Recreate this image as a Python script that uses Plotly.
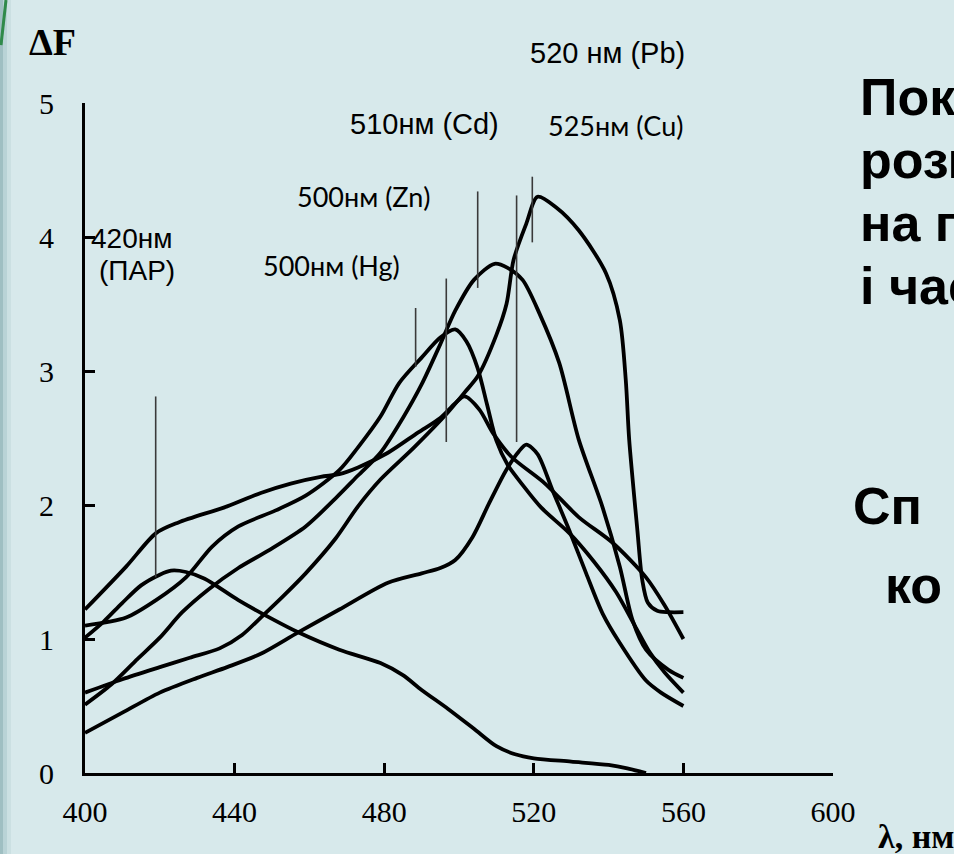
import plotly.graph_objects as go

# ---------------- data ----------------
par_x = [400, 405, 410, 415, 420, 423, 427, 432, 441, 450, 457, 468, 479, 485, 490, 497, 504, 510, 515, 520, 530, 540, 545, 550]
par_y = [1.01, 1.13, 1.27, 1.40, 1.48, 1.51, 1.50, 1.45, 1.29, 1.15, 1.05, 0.92, 0.82, 0.73, 0.62, 0.48, 0.33, 0.20, 0.14, 0.11, 0.085, 0.06, 0.035, 0.0]

hg_x = [400, 411, 419, 425, 438, 447, 455, 463, 468, 473, 481, 489, 495, 499, 501.5, 505.5, 509, 514, 523, 532, 541, 550, 555, 560]
hg_y = [1.22, 1.54, 1.79, 1.87, 1.99, 2.09, 2.16, 2.21, 2.23, 2.28, 2.39, 2.54, 2.65, 2.76, 2.81, 2.71, 2.54, 2.36, 2.16, 1.91, 1.72, 1.46, 1.25, 1.0]

zn_x = [400, 411, 419, 427, 434, 441, 451, 459, 468, 473, 479, 484, 490, 495, 499, 502, 505, 507.5, 510, 513, 517, 522, 529.5, 536, 542, 547, 551, 555, 560]
zn_y = [1.10, 1.16, 1.29, 1.46, 1.69, 1.84, 1.96, 2.07, 2.26, 2.43, 2.66, 2.91, 3.10, 3.25, 3.31, 3.22, 3.02, 2.75, 2.48, 2.30, 2.15, 1.98, 1.79, 1.58, 1.35, 1.10, 0.90, 0.75, 0.60]

cd_x = [400, 407, 414, 420, 426, 433, 441, 449, 459, 467, 473, 479, 485, 490, 495, 499, 504, 509.5, 513, 517, 521.5, 526.8, 532, 538.3, 543, 546.4, 550, 556, 560]
cd_y = [0.51, 0.66, 0.85, 1.01, 1.20, 1.37, 1.53, 1.66, 1.84, 2.05, 2.22, 2.39, 2.65, 2.90, 3.20, 3.45, 3.68, 3.80, 3.77, 3.68, 3.43, 3.06, 2.49, 1.99, 1.54, 1.14, 0.92, 0.77, 0.71]

pb_x = [400, 410, 420, 428, 436, 442, 447, 453, 459, 467, 473, 479, 488, 497, 501.5, 505, 510, 512.7, 514.6, 518, 521, 526, 532, 539.3, 543, 544.6, 545.5, 547.7, 549, 550.5, 553, 556, 560]
pb_y = [0.60, 0.70, 0.79, 0.86, 0.93, 1.03, 1.16, 1.32, 1.49, 1.75, 1.99, 2.19, 2.43, 2.69, 2.84, 2.96, 3.27, 3.50, 3.83, 4.10, 4.30, 4.22, 4.05, 3.73, 3.38, 2.93, 2.49, 1.81, 1.44, 1.27, 1.21, 1.20, 1.20]

cu_x = [400, 410, 420, 430, 438, 447, 457, 468, 481, 490, 495, 499, 503.6, 508, 512.6, 516, 518, 521, 525, 529.5, 534, 538.4, 543, 550, 554, 560]
cu_y = [0.30, 0.45, 0.60, 0.71, 0.79, 0.89, 1.05, 1.22, 1.42, 1.49, 1.53, 1.59, 1.76, 2.01, 2.26, 2.40, 2.45, 2.38, 2.11, 1.81, 1.49, 1.19, 0.97, 0.69, 0.60, 0.50]

# thin vertical marker lines (wavelength, low, high)
mark_x = [418.9, 488.4, 496.6, 505.0, 515.4, 519.6]
mark_lo = [1.46, 3.03, 2.47, 3.62, 2.47, 3.96]
mark_hi = [2.81, 3.47, 3.69, 4.34, 4.31, 4.45]

x_ticks = [400, 440, 480, 520, 560, 600]
y_ticks = [0, 1, 2, 3, 4, 5]

# ---------------- layout geometry ----------------
W, H = 954, 854
L, R, T, B = 85, 121, 103, 81
PW, PH = W - L - R, H - T - B
BG = "#d7e9eb"


def px(xp):
    return (xp - L) / PW


def py(yp):
    return (H - B - yp) / PH


fig = go.Figure()

for xs, ys in [(par_x, par_y), (hg_x, hg_y), (zn_x, zn_y), (cd_x, cd_y), (pb_x, pb_y), (cu_x, cu_y)]:
    fig.add_trace(go.Scatter(x=xs, y=ys, mode="lines",
                             line=dict(color="black", width=3.8, shape="spline", smoothing=0.8),
                             cliponaxis=False, showlegend=False, hoverinfo="skip"))

for mx, lo, hi in zip(mark_x, mark_lo, mark_hi):
    fig.add_trace(go.Scatter(x=[mx, mx], y=[lo, hi], mode="lines",
                             line=dict(color="#3a3a3a", width=1.6),
                             cliponaxis=False, showlegend=False, hoverinfo="skip"))

ann = []


def add_text(text, xp, yp, size, family, bold=False, xanchor="center", yanchor="middle"):
    t = f"<b>{text}</b>" if bold else text
    ann.append(dict(text=t, x=px(xp), y=py(yp), xref="paper", yref="paper",
                    xanchor=xanchor, yanchor=yanchor, showarrow=False,
                    font=dict(size=size, family=family, color="black")))


ARIAL = "Liberation Sans, Arial, sans-serif"
CALIB = "Lato, Carlito, Calibri, sans-serif"
TIMES = "Liberation Serif, Times New Roman, serif"

add_text("520 нм (Pb)", 607, 53, 29, ARIAL)
add_text("510нм (Cd)", 424, 124, 29, ARIAL)
add_text("525нм (Cu)", 615, 126, 27, CALIB)
add_text("500нм (Zn)", 364, 196, 27, CALIB)
add_text("500нм (Hg)", 331, 265, 27, CALIB)
add_text("420нм", 131, 238, 28, ARIAL)
add_text("(ПАР)", 137, 270, 28, ARIAL)
add_text("ΔF", 52, 42, 38, TIMES, bold=True)
add_text("λ, нм", 876, 836, 34, TIMES, bold=True, xanchor="left")

# cropped slide text on the right
for txt, yc in [("Пок", 97), ("розм", 160), ("на по", 223), ("і час", 286)]:
    add_text(txt, 858, yc, 52, ARIAL, bold=True, xanchor="left")
add_text("Сп", 851, 506, 52, ARIAL, bold=True, xanchor="left")
add_text("ко", 883, 585, 52, ARIAL, bold=True, xanchor="left")

shapes = [
    dict(type="rect", xref="paper", yref="paper", x0=px(0), x1=px(3), y0=py(H), y1=py(0),
         fillcolor="#9fbfc2", line=dict(width=0), layer="below"),
    dict(type="rect", xref="paper", yref="paper", x0=px(3), x1=px(7), y0=py(H), y1=py(0),
         fillcolor="#b9d3d6", line=dict(width=0), layer="below"),
    dict(type="rect", xref="paper", yref="paper", x0=px(7), x1=px(11), y0=py(H), y1=py(0),
         fillcolor="#cbe0e2", line=dict(width=0), layer="below"),
    dict(type="line", xref="paper", yref="paper", x0=px(6), y0=py(0), x1=px(1), y1=py(45),
         line=dict(color="#2f8a4a", width=3)),
]

fig.update_layout(
    width=W, height=H,
    margin=dict(l=L, r=R, t=T, b=B, pad=0),
    paper_bgcolor=BG, plot_bgcolor=BG,
    showlegend=False,
    annotations=ann,
    shapes=shapes,
    xaxis=dict(range=[400, 600], tickvals=x_ticks, ticktext=[str(v) for v in x_ticks],
               showgrid=False, zeroline=False, showline=True, linecolor="black", linewidth=3,
               ticks="inside", ticklen=10, tickwidth=2.5, tickcolor="black",
               tickfont=dict(family=TIMES, size=30, color="black"), ticklabelstandoff=10,
               fixedrange=True),
    yaxis=dict(range=[0, 5], tickvals=y_ticks, ticktext=[str(v) for v in y_ticks],
               showgrid=False, zeroline=False, showline=True, linecolor="black", linewidth=3,
               ticks="inside", ticklen=10, tickwidth=2.5, tickcolor="black",
               tickfont=dict(family=TIMES, size=30, color="black"), ticklabelstandoff=22,
               fixedrange=True),
)

fig.write_html("out.html", config={"displayModeBar": False},
               post_script="document.body.style.margin='0';document.body.style.overflow='hidden';")
